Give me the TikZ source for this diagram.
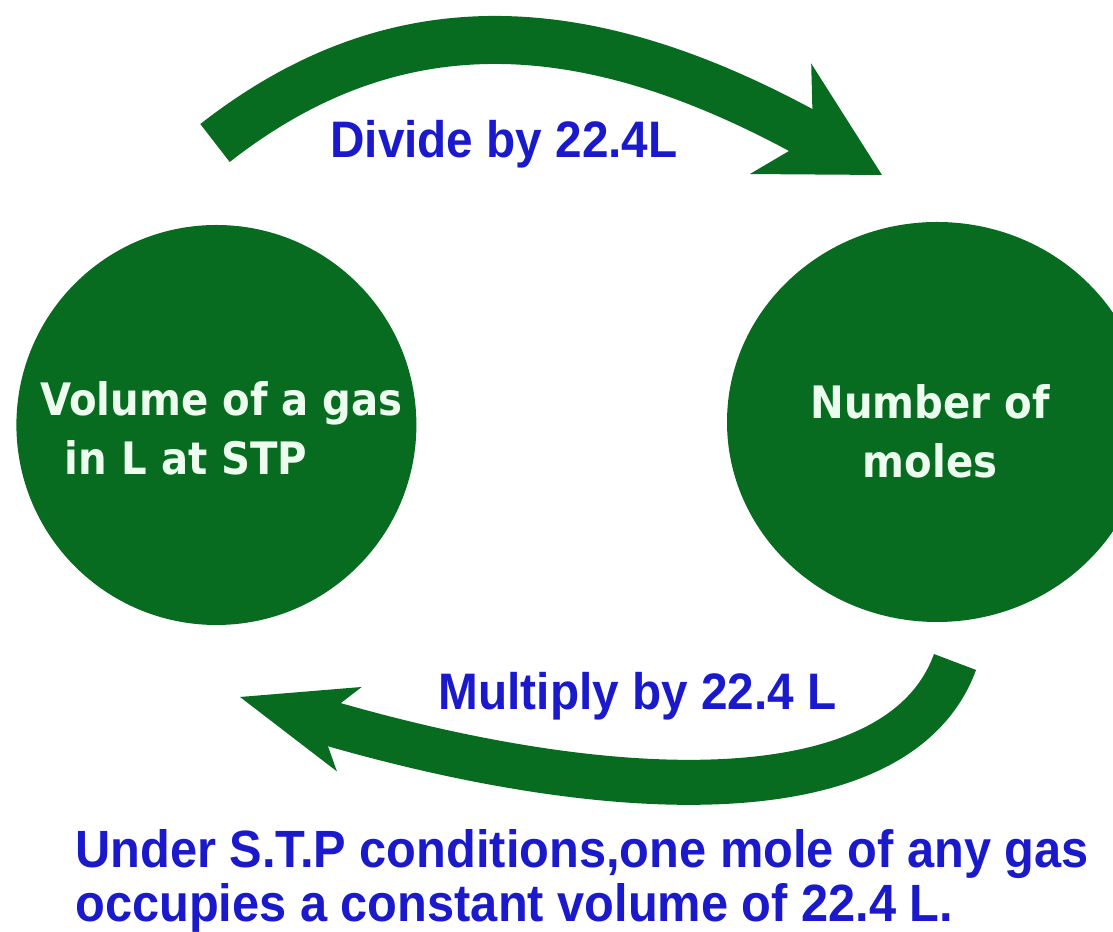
\documentclass[tikz,border=0pt]{standalone}
\usepackage{fontspec}
\usetikzlibrary{arrows.meta,shapes.geometric}
\newfontfamily\ballfont[FakeStretch=0.9]{DejaVu Sans}
\newfontfamily\notefont[FakeStretch=0.93]{Liberation Sans}
\definecolor{StpGreen}{RGB}{8,108,32}
\definecolor{StpBlue}{RGB}{26,26,204}
\definecolor{StpWhite}{RGB}{236,252,238}
\tikzset{
  stp/ball/.style={
    circle,
    fill=StpGreen,
    draw=none,
    minimum size=10cm,
    inner sep=0pt
  },
  stp/oval/.style={
    ellipse,
    fill=StpGreen,
    draw=none,
    minimum width=10.5cm,
    minimum height=10cm,
    inner sep=0pt
  },
  stp/balltext/.style={
    text=StpWhite,
    align=center,
    inner sep=0pt,
    font=\ballfont\bfseries\fontsize{31.8}{42}\selectfont
  },
  stp/label/.style={
    text=StpBlue,
    inner sep=0pt,
    font=\notefont\bfseries\fontsize{36.5}{39}\selectfont
  },
  stp/fwd/.style={draw=StpGreen, line width=1.2cm, -{Stealth[length=2.9cm,width=3.16cm,inset=0.93cm,line width=0pt]}},
  stp/back/.style={draw=StpGreen, line width=1.125cm, -{Stealth[length=2.85cm,width=2.2cm,inset=0.8cm,line width=0pt]}}
}
\begin{document}
\begin{tikzpicture}[x=1cm,y=1cm]
  \useasboundingbox (0,0) rectangle (27.825,23.3);
  \node[stp/ball] (volume) at (5.41,12.675) {};
  \node[stp/oval] (moles) at (23.425,12.75) {};
  \node[stp/balltext, align=left] (volumetxt) at (5.54,12.59) {Volume of a gas\\\hspace*{0.55em}in L at STP};
  \node[stp/balltext] (molestxt) at (23.25,12.51) {Number of\\moles};
  \coordinate (divtail) at (5.375,19.725);
  \coordinate (divtip) at (22.05,18.925);
  \coordinate (multail) at (23.875,6.75);
  \coordinate (multip) at (6.0,5.875);
  \draw[stp/fwd] (divtail) .. controls +(38:5.6) and +(151:8.6) .. (divtip);
  \draw[stp/back] (multail) .. controls +(-110:4) and +(-16.4:10) .. (multip);
  \node[stp/label, anchor=base] (divide) at (12.6,19.35) {Divide by 22.4L};
  \node[stp/label, anchor=base] (multiply) at (15.94,5.55) {Multiply by 22.4 L};
  \node[stp/label, anchor=base west, align=left, font=\notefont\bfseries\fontsize{37.3}{39}\selectfont] (note) at (1.875,0.25) {Under S.T.P conditions,one mole of any gas\\occupies a constant volume of 22.4 L.};
\end{tikzpicture}
\end{document}
